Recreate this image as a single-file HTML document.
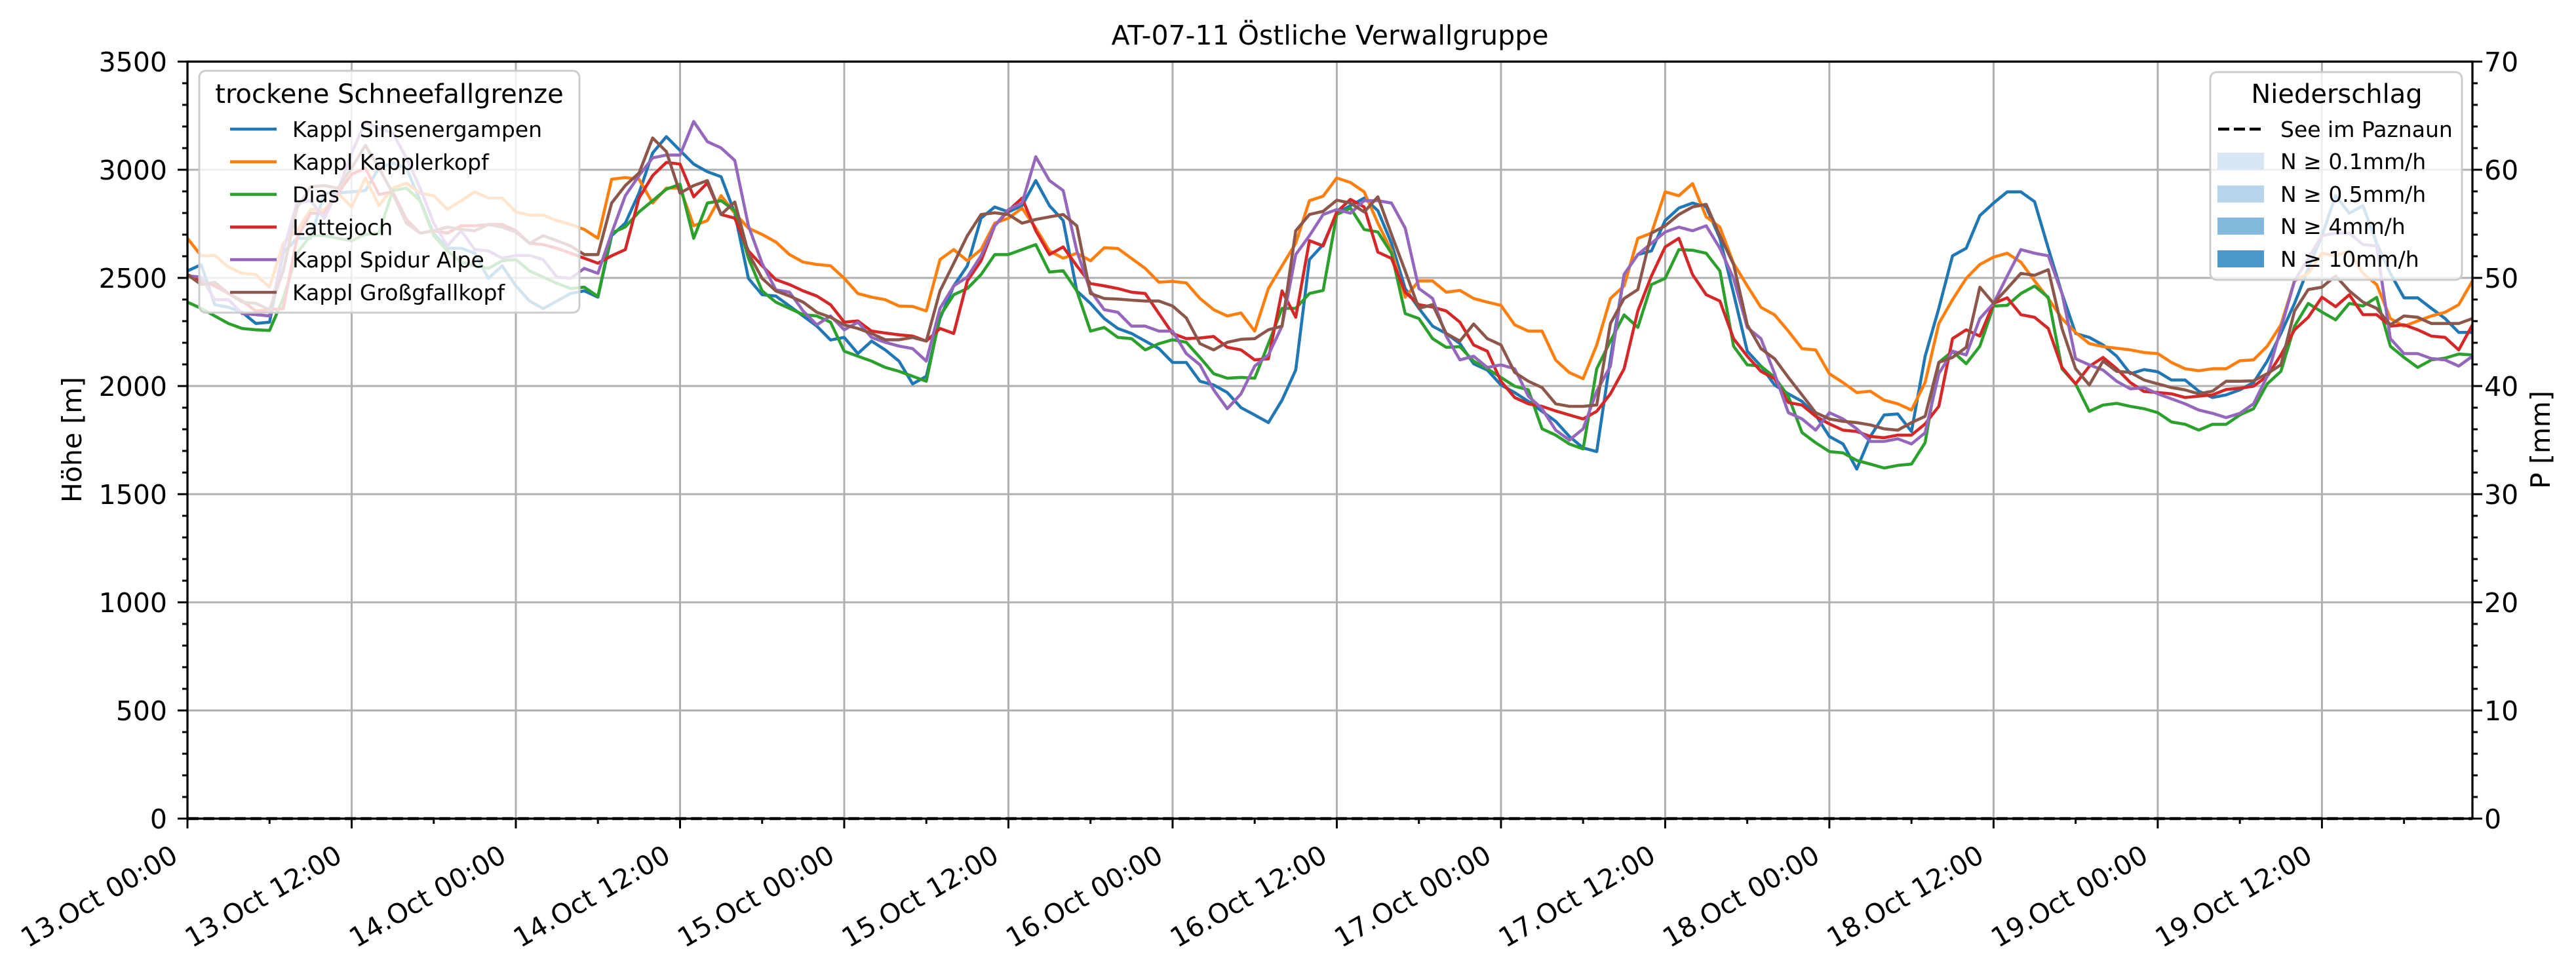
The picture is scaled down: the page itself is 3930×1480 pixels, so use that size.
<!DOCTYPE html>
<html>
<head>
<meta charset="utf-8">
<style>
  html,body{margin:0;padding:0;background:#fff;}
  svg{display:block;font-family:"DejaVu Sans","Liberation Sans",sans-serif;}
</style>
</head>
<body>
<svg id="chart" xmlns="http://www.w3.org/2000/svg" width="3930" height="1480" viewBox="0 0 3930 1480">
  <rect x="0" y="0" width="3930" height="1480" fill="#ffffff"/>
  <text x="2029" y="68" font-size="41" text-anchor="middle">AT-07-11 Östliche Verwallgruppe</text>
  <g id="grid"></g>
  <g id="series"></g>
  <g id="axes"></g>
  <text transform="translate(124,671) rotate(-90)" font-size="41" text-anchor="middle">Höhe [m]</text>
  <text transform="translate(3890,671) rotate(-90)" font-size="41" text-anchor="middle">P [mm]</text>

  <g>
    <rect x="304" y="108" width="580" height="369" rx="10" fill="#ffffff" fill-opacity="0.8" stroke="#cccccc" stroke-width="3"/>
    <text x="594" y="157" font-size="40" text-anchor="middle">trockene Schneefallgrenze</text>
    <g id="legend1"></g>
  </g>
  <g>
    <rect x="3372" y="110" width="384" height="317" rx="10" fill="#ffffff" fill-opacity="0.8" stroke="#cccccc" stroke-width="3"/>
    <text x="3565" y="157" font-size="40" text-anchor="middle">Niederschlag</text>
    <line x1="3384" y1="197" x2="3454" y2="197" stroke="#000" stroke-width="4.5" stroke-dasharray="17,7"/>
    <text x="3479" y="209" font-size="33">See im Paznaun</text>
    <rect x="3383" y="233" width="71" height="26" fill="#d6e6f4"/>
    <text x="3479" y="258" font-size="33">N ≥ 0.1mm/h</text>
    <rect x="3383" y="283" width="71" height="26" fill="#b7d4ea"/>
    <text x="3479" y="308" font-size="33">N ≥ 0.5mm/h</text>
    <rect x="3383" y="332" width="71" height="26" fill="#83b9dc"/>
    <text x="3479" y="357" font-size="33">N ≥ 4mm/h</text>
    <rect x="3383" y="382" width="71" height="26" fill="#4b97c9"/>
    <text x="3479" y="407" font-size="33">N ≥ 10mm/h</text>
  </g>
</svg>
<script>
const seriesNames = ["Kappl Sinsenergampen","Kappl Kapplerkopf","Dias","Lattejoch","Kappl Spidur Alpe","Kappl Großgfallkopf"];
const seriesColors = ["#1f77b4","#ff7f0e","#2ca02c","#d62728","#9467bd","#8c564b"];
const xTickLabels = ["13.Oct 00:00","13.Oct 12:00","14.Oct 00:00","14.Oct 12:00","15.Oct 00:00","15.Oct 12:00","16.Oct 00:00","16.Oct 12:00","17.Oct 00:00","17.Oct 12:00","18.Oct 00:00","18.Oct 12:00","19.Oct 00:00","19.Oct 12:00"];
const yTicks = [0,500,1000,1500,2000,2500,3000,3500];
const y2Ticks = [0,10,20,30,40,50,60,70];
const precipSee = [0,0];
const sinsenergampen = [2532,2561,2376,2364,2341,2289,2295,2614,2683,2683,2892,2892,2898,2904,3008,3031,3008,2857,2706,2637,2637,2614,2498,2556,2463,2393,2358,2393,2428,2440,2411,2695,2753,2892,3078,
3153,3089,3026,2991,2968,2799,2498,2422,2416,2370,2324,2277,2213,2225,2150,2208,2167,2115,2010,2045,2312,2463,2556,2776,2828,2805,2834,2950,2834,2765,2440,2382,2312,
2266,2243,2208,2173,2109,2109,2022,2005,1970,1900,1866,1831,1935,2074,2585,2654,2799,2834,2869,2811,2660,2451,2359,2277,2243,2196,2103,2074,2005,1970,1929,1883,1837,1767,
1714,1697,2126,2516,2608,2625,2765,2823,2846,2828,2683,2428,2161,2092,2005,1964,1929,1866,1767,1732,1616,1767,1866,1871,1790,2138,2359,2602,2637,2788,2846,2898,2898,
2852,2637,2428,2243,2225,2190,2138,2057,2076,2066,2028,2028,1976,1947,1959,1982,2016,2115,2243,2382,2544,2695,2880,2799,2834,2660,2521,2408,2408,2359,2312,2248,2248];
const kapplerkopf = [2683,2602,2604,2550,2521,2515,2457,2660,2718,2817,2813,2892,2828,2962,2834,2915,2938,2892,2880,2817,2857,2898,2869,2869,2805,2790,2790,2765,2747,2724,2683,2956,2964,2956,2846,
2915,2915,2741,2765,2880,2799,2730,2701,2666,2608,2573,2562,2556,2498,2428,2411,2399,2370,2368,2347,2585,2631,2579,2631,2753,2776,2822,2730,2625,2591,2614,2579,2639,
2636,2590,2544,2480,2484,2477,2405,2353,2324,2338,2254,2451,2556,2660,2857,2878,2962,2941,2898,2753,2625,2411,2486,2486,2434,2442,2405,2388,2373,2283,2254,2254,2120,2062,
2034,2190,2405,2463,2683,2707,2898,2880,2936,2782,2735,2567,2463,2364,2329,2254,2173,2167,2057,2016,1970,1976,1935,1918,1889,2016,2289,2399,2498,2562,2596,2614,2573,
2486,2405,2312,2248,2196,2182,2175,2167,2155,2150,2109,2080,2071,2080,2080,2117,2121,2184,2283,2486,2521,2614,2602,2625,2521,2469,2312,2277,2301,2324,2341,2376,2486];
const dias = [2388,2359,2324,2289,2266,2260,2257,2405,2614,2695,2695,2683,2672,2701,2707,2904,2915,2857,2695,2625,2573,2556,2544,2579,2585,2532,2504,2475,2451,2457,2414,2707,2736,2805,2857,
2910,2933,2683,2846,2857,2811,2591,2440,2388,2359,2330,2324,2295,2161,2138,2115,2086,2068,2045,2022,2324,2422,2451,2515,2608,2608,2631,2654,2527,2533,2440,2254,2271,
2225,2219,2167,2196,2214,2202,2132,2057,2036,2040,2036,2196,2359,2359,2428,2442,2793,2823,2724,2712,2614,2335,2312,2219,2179,2182,2115,2080,2040,1999,1982,1802,1773,1732,
1709,2080,2208,2329,2271,2469,2498,2631,2628,2614,2532,2184,2098,2092,2040,1953,1785,1738,1697,1691,1656,1639,1621,1633,1639,1738,2109,2161,2103,2184,2370,2373,2428,
2462,2410,2080,2010,1883,1912,1920,1906,1895,1877,1834,1823,1796,1823,1823,1866,1895,2010,2068,2277,2382,2342,2306,2382,2370,2410,2184,2132,2086,2121,2129,2148,2144];
const lattejoch = [2515,2486,2463,2428,2393,2347,2353,2358,2683,2799,2799,2892,2979,3008,2886,2898,2770,2707,2718,2707,2741,2741,2747,2747,2718,2660,2654,2637,2614,2591,2568,2602,2631,2869,2973,
3034,3026,2875,2939,2793,2776,2625,2556,2492,2469,2440,2416,2376,2295,2301,2254,2245,2237,2231,2208,2266,2243,2486,2579,2741,2811,2869,2718,2608,2643,2556,2474,2463,
2451,2434,2428,2335,2243,2219,2222,2229,2179,2167,2121,2126,2440,2318,2672,2648,2805,2863,2828,2619,2590,2434,2376,2365,2347,2295,2190,2161,2022,1947,1918,1906,1885,1866,
1848,1883,1964,2080,2347,2509,2643,2683,2515,2422,2393,2219,2138,2068,2034,1924,1912,1860,1825,1796,1790,1767,1761,1773,1773,1825,1906,2219,2260,2231,2382,2408,2330,
2318,2266,2086,2010,2091,2132,2080,2016,1975,1970,1964,1947,1953,1959,1984,1990,1999,2045,2144,2260,2318,2411,2367,2422,2330,2330,2277,2283,2260,2231,2225,2167,2283];
const spidurAlpe = [2509,2504,2399,2399,2335,2330,2324,2625,2846,2857,2776,2904,3078,3220,3190,3170,3055,2915,2753,2648,2718,2631,2625,2591,2604,2604,2585,2504,2498,2544,2521,2707,2880,2973,3055,
3068,3068,3223,3130,3101,3043,2741,2567,2445,2434,2347,2283,2324,2260,2295,2225,2202,2185,2173,2115,2359,2463,2504,2602,2741,2816,2846,3060,2950,2904,2625,2440,2353,
2341,2277,2277,2254,2254,2150,2098,1982,1895,1964,2092,2144,2277,2608,2695,2793,2816,2799,2857,2857,2846,2730,2451,2405,2231,2121,2138,2086,2098,2080,1953,1895,1796,1750,
1802,1976,2092,2516,2608,2660,2712,2735,2718,2741,2637,2498,2271,2219,2057,1877,1848,1796,1877,1848,1802,1744,1744,1756,1732,1784,2057,2161,2144,2312,2382,2509,2631,
2614,2602,2428,2126,2098,2074,2022,1987,1993,1964,1941,1918,1889,1874,1854,1874,1918,2045,2266,2486,2590,2695,2707,2707,2654,2648,2219,2150,2150,2127,2121,2092,2138];
const grossgfallkopf = [2515,2469,2480,2428,2388,2382,2353,2532,2823,2921,2927,2915,3008,3113,3008,2892,2753,2707,2718,2735,2724,2718,2747,2735,2712,2660,2695,2672,2648,2608,2608,2846,2927,2985,3147,
3084,2892,2927,2950,2793,2851,2614,2498,2440,2416,2388,2341,2318,2283,2266,2243,2214,2214,2225,2208,2440,2567,2695,2793,2801,2793,2753,2770,2782,2793,2741,2428,2405,
2402,2397,2393,2393,2370,2315,2196,2167,2202,2216,2219,2260,2277,2718,2793,2808,2859,2846,2805,2875,2701,2532,2359,2376,2243,2208,2287,2219,2190,2063,2022,1993,1918,1906,
1906,1912,2289,2405,2446,2707,2741,2793,2828,2840,2695,2562,2283,2173,2126,2040,1959,1877,1848,1837,1831,1820,1802,1796,1831,1860,2109,2132,2179,2457,2382,2451,2521,
2512,2538,2266,2080,2005,2115,2068,2063,2028,2010,1993,1982,1964,1976,2022,2022,2024,2057,2098,2347,2446,2457,2509,2440,2388,2359,2283,2324,2318,2289,2289,2289,2312];
const allSeries = [sinsenergampen,kapplerkopf,dias,lattejoch,spidurAlpe,grossgfallkopf];

const NS = "http://www.w3.org/2000/svg";
const L = 286, R = 3772, T = 94, B = 1249, HMAX = 167, YMAX = 3500, Y2MAX = 70;
function xs(h){ return L + h * (R - L) / HMAX; }
function ys(v){ return B - v * (B - T) / YMAX; }
function ys2(p){ return B - p * (B - T) / Y2MAX; }
function mk(tag, attrs, parent){
  const e = document.createElementNS(NS, tag);
  for (const k in attrs) e.setAttribute(k, attrs[k]);
  parent.appendChild(e);
  return e;
}
const grid = document.getElementById('grid');
const axes = document.getElementById('axes');
const sg = document.getElementById('series');

// grid lines
xTickLabels.forEach((lab, i) => {
  const x = xs(i * 12);
  const g = mk('line', {x1:x, y1:T, x2:x, y2:B, stroke:'#b0b0b0', 'stroke-width':3}, grid);
  
  
});
yTicks.forEach(v => {
  const y = ys(v);
  const g = mk('line', {x1:L, y1:y, x2:R, y2:y, stroke:'#b0b0b0', 'stroke-width':3}, grid);
  
  
});

// series lines
allSeries.forEach((arr, si) => {
  const pts = arr.map((v, h) => xs(h).toFixed(1) + ',' + ys(v).toFixed(1)).join(' ');
  const pl = mk('polyline', {points:pts, fill:'none', stroke:seriesColors[si], 'stroke-width':4.6, 'stroke-linejoin':'round'}, sg);
  
  
});
// precipitation zero line (dashed)
const see = mk('line', {x1:xs(0), y1:ys2(precipSee[0]), x2:xs(HMAX), y2:ys2(precipSee[1]), stroke:'#000', 'stroke-width':4.6, 'stroke-dasharray':'17,7'}, sg);



// spines
const frame = mk('rect', {x:L, y:T, width:R-L, height:B-T, fill:'none', stroke:'#000', 'stroke-width':3.3}, axes);



// x ticks
for (let h = 0; h <= HMAX; h += 6) {
  const x = xs(h);
  const major = (h % 12 === 0);
  const t = mk('line', {x1:x, y1:B, x2:x, y2:B + (major ? 15 : 8), stroke:'#000', 'stroke-width':3}, axes);
  
  
}
xTickLabels.forEach((lab, i) => {
  const x = xs(i * 12);
  const t = mk('text', {transform:'translate(' + (x - 12) + ',1313) rotate(-30)', 'font-size':41, 'text-anchor':'end'}, axes);
  t.textContent = lab;
  
  
});
// left y ticks
for (let v = 0; v <= YMAX; v += 100) {
  const y = ys(v);
  const major = (v % 500 === 0);
  const t = mk('line', {x1:L - (major ? 15 : 8), y1:y, x2:L, y2:y, stroke:'#000', 'stroke-width':3}, axes);
  
  
}
yTicks.forEach(v => {
  const t = mk('text', {x:255, y:ys(v) + 15, 'font-size':41, 'text-anchor':'end'}, axes);
  t.textContent = String(v);
  
  
});
// right y ticks
for (let p = 0; p <= Y2MAX; p += 2) {
  const y = ys2(p);
  const major = (p % 10 === 0);
  const t = mk('line', {x1:R, y1:y, x2:R + (major ? 15 : 8), y2:y, stroke:'#000', 'stroke-width':3}, axes);
  
  
}
y2Ticks.forEach(p => {
  const t = mk('text', {x:3790, y:ys2(p) + 15, 'font-size':41, 'text-anchor':'start'}, axes);
  t.textContent = String(p);
  
  
});

// legend 1 entries
const lg = document.getElementById('legend1');
seriesNames.forEach((nm, i) => {
  const y = 197 + i * 49.8;
  const ln = mk('line', {x1:351, y1:y, x2:422, y2:y, stroke:seriesColors[i], 'stroke-width':4.6}, lg);
  
  
  const tx = mk('text', {x:446, y:y + 12, 'font-size':33}, lg);
  tx.textContent = nm;
  
  
});
</script>
</body>
</html>
